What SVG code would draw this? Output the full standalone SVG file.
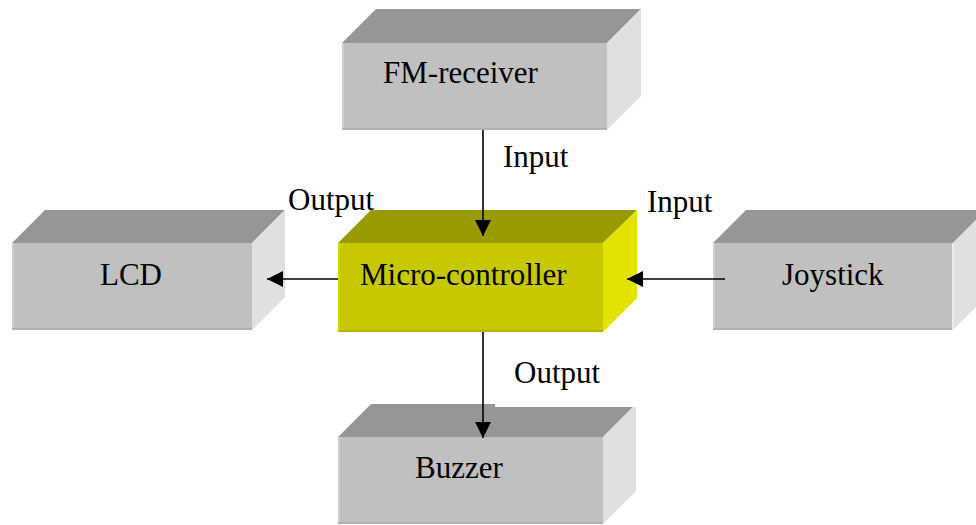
<svg xmlns="http://www.w3.org/2000/svg" width="976" height="525" viewBox="0 0 976 525">
<defs>
<style>
.txt{font-family:"Liberation Serif","Times New Roman",serif;font-size:31px;fill:#000}
.gf{fill:#C0C0C0}
.gt{fill:#969696}
.gs{fill:#E0E0E0}
.yf{fill:#C8C800}
.yt{fill:#999900}
.ys{fill:#E3E300}
.edgeL{stroke:#CFCFCF;stroke-width:2}
.edgeB{stroke:#B0B0B0;stroke-width:2}
.yedgeL{stroke:#D8D800;stroke-width:2}
.yedgeB{stroke:#B4B400;stroke-width:2}
.conn{stroke:#000;stroke-width:1.6;fill:none;marker-end:url(#ah)}
</style>
<marker id="ah" markerUnits="userSpaceOnUse" markerWidth="18" markerHeight="16" refX="16" refY="8" orient="auto">
<path d="M0,0 L16,8 L0,16 Z" fill="#000"/>
</marker>
</defs>
<rect width="976" height="525" fill="#fff"/>

<g id="fm-receiver">
<polygon class="gt" points="342,43 376,9 641,9 607,43"/>
<polygon class="gs" points="607,43 641,9 641,96 607,130"/>
<rect class="gf" x="342" y="43" width="265" height="87"/>
<line class="edgeL" x1="343" y1="43" x2="343" y2="130"/>
<line class="edgeB" x1="342" y1="129" x2="607" y2="129"/>
<text class="txt" x="383" y="83">FM-receiver</text>
</g>

<g id="lcd">
<polygon class="gt" points="12,243 45,210 285,210 252,243"/>
<polygon class="gs" points="252,243 285,210 285,297 252,330"/>
<rect class="gf" x="12" y="243" width="240" height="87"/>
<line class="edgeL" x1="13" y1="243" x2="13" y2="330"/>
<line class="edgeB" x1="12" y1="329" x2="252" y2="329"/>
<text class="txt" x="100" y="285">LCD</text>
</g>

<g id="micro-controller">
<polygon class="yt" points="338,243 371,210 637,210 603,243"/>
<polygon class="ys" points="603,243 637,210 637,298 603,332"/>
<rect class="yf" x="338" y="243" width="265" height="89"/>
<line class="yedgeL" x1="339" y1="243" x2="339" y2="332"/>
<line class="yedgeB" x1="338" y1="331" x2="603" y2="331"/>
<text class="txt" x="360" y="285">Micro-controller</text>
</g>

<g id="joystick">
<polygon class="gt" points="713,243 746,210 986,210 953,243"/>
<polygon class="gs" points="953,243 986,210 986,297 953,330"/>
<rect class="gf" x="713" y="243" width="240" height="87"/>
<line class="edgeL" x1="714" y1="243" x2="714" y2="330"/>
<line class="edgeB" x1="713" y1="329" x2="953" y2="329"/>
<line stroke="#EBEBEB" stroke-width="2" x1="953" y1="243" x2="953" y2="330"/>
<text class="txt" x="782" y="285">Joystick</text>
</g>

<g id="buzzer">
<polygon class="gt" points="338,437 371,404 636,404 603,437"/>
<polygon class="gs" points="603,437 636,404 636,491 603,524"/>
<rect class="gf" x="338" y="437" width="265" height="87"/>
<line class="edgeL" x1="339" y1="437" x2="339" y2="524"/>
<line class="edgeB" x1="338" y1="523" x2="603" y2="523"/>
<rect x="495" y="355" width="145" height="52" fill="#fff"/>
<text class="txt" x="415" y="478">Buzzer</text>
</g>

<g id="connectors">
<line class="conn" x1="483" y1="130" x2="483" y2="236"/>
<line class="conn" x1="338" y1="279" x2="267" y2="279"/>
<line class="conn" x1="725" y1="279" x2="627" y2="279"/>
<line class="conn" x1="483" y1="332" x2="483" y2="438"/>
</g>

<g id="labels">
<text class="txt" x="503" y="167">Input</text>
<text class="txt" x="288" y="210">Output</text>
<text class="txt" x="647" y="212">Input</text>
<text class="txt" x="514" y="383">Output</text>
</g>
</svg>
